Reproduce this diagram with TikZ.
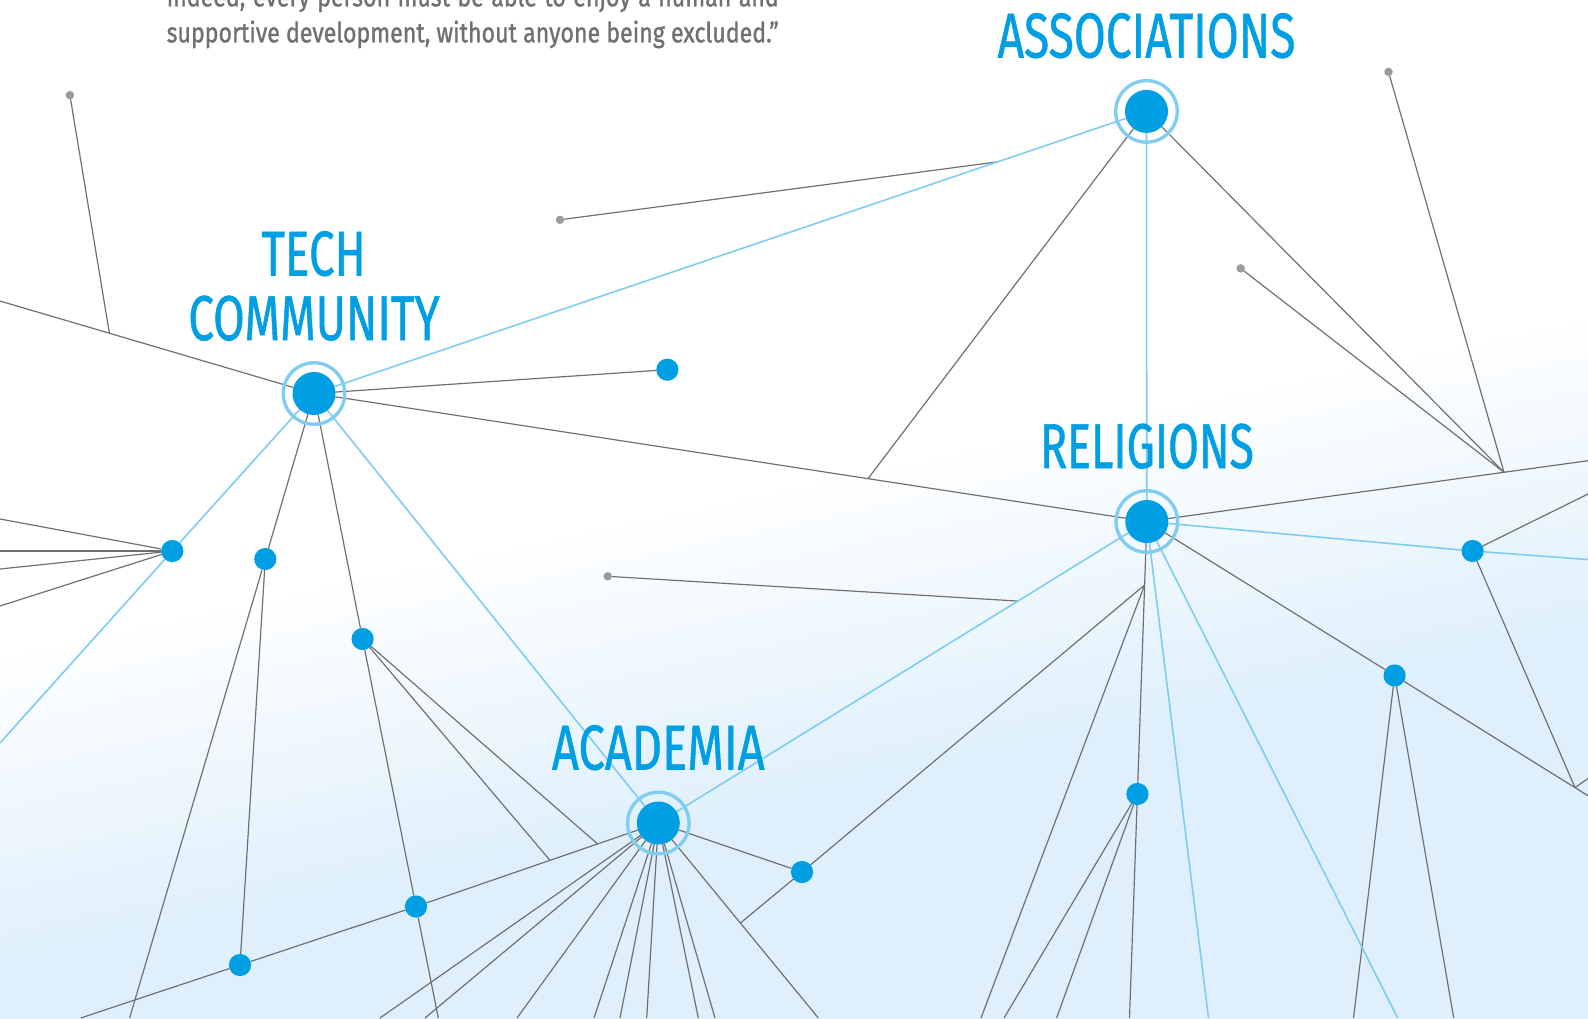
\documentclass[tikz,border=0pt]{standalone}
\usepackage{fontspec}
\usepackage{graphicx}
\usetikzlibrary{calc}
\newfontfamily\lblfont[FakeBold=1.0]{Fira Sans}
\newfontfamily\qfont[FakeBold=1.2]{Fira Sans}
\definecolor{hub}{HTML}{009FE3}
\definecolor{ringc}{HTML}{80CDF1}
\definecolor{lb}{HTML}{7DCCF2}
\definecolor{gl}{HTML}{707070}
\definecolor{gd}{HTML}{9B9B9B}
\definecolor{bgb}{HTML}{DFF0FC}
\definecolor{qt}{HTML}{707070}
\newsavebox\myqbox
\newcommand{\myQuoteA}{indeed, every person must be able to enjoy a human and}
\newcommand{\myQuoteB}{supportive development, without anyone being excluded.”}
\pgfdeclarelayer{back}
\pgfdeclarelayer{lines}
\pgfsetlayers{back,lines,main}
\tikzset{
 gline/.style={draw=gl, line width=0.34pt},
 bline/.style={draw=lb, line width=0.45pt},
 hubdot/.style={circle, fill=hub, inner sep=0pt, outer sep=0pt, minimum size=0.43cm},
 hubring/.style={circle, draw=ringc, line width=0.95pt, inner sep=0pt, minimum size=0.615cm},
 smalldot/.style={circle, fill=hub, inner sep=0pt, outer sep=0pt, minimum size=0.222cm},
 greydot/.style={circle, fill=gd, inner sep=0pt, outer sep=0pt, minimum size=0.085cm},
 lbl/.style={text=hub, inner sep=0pt, anchor=base, font=\lblfont\fontsize{18}{18}\selectfont},
 qtext/.style={text=qt, inner sep=0pt, anchor=base west, font=\qfont\fontsize{7.9}{10}\selectfont},
}
\begin{document}
\begin{tikzpicture}[x=0.01cm, y=-0.01cm]
\useasboundingbox (0,0) rectangle (1588,1018);
% background
\begin{pgfonlayer}{back}
 \clip (0,0) rectangle (1588,1018);
 \fill[white] (0,0) rectangle (1588,1018);
 \begin{scope}[transform canvas={rotate around={12:(794,509)}}]
  \shade[top color=white, bottom color=bgb] (-800,480) rectangle (2400,790);
  \fill[bgb] (-800,789) rectangle (2400,2600);
 \end{scope}
\end{pgfonlayer}
% hubs
\node[hubdot] (A) at (1146.5,111.4) {};
\node[hubdot] (T) at (314,393.5) {};
\node[hubdot] (C) at (658.3,823) {};
\node[hubdot] (R) at (1146.8,521.5) {};
\node[hubring] (Ar) at (A.center) {};
\node[hubring] (Tr) at (T.center) {};
\node[hubring] (Cr) at (C.center) {};
\node[hubring] (Rr) at (R.center) {};
% small dots
\node[smalldot] (D1) at (172.3,551) {};
\node[smalldot] (D2) at (265.3,559) {};
\node[smalldot] (D3) at (362.6,639) {};
\node[smalldot] (D4) at (667.4,369.7) {};
\node[smalldot] (D5) at (416,906.5) {};
\node[smalldot] (D6) at (240,965) {};
\node[smalldot] (D7) at (802,872) {};
\node[smalldot] (D8) at (1137.4,794) {};
\node[smalldot] (D9) at (1472.6,551) {};
\node[smalldot] (D10) at (1394.6,675.5) {};
% grey dots
\node[greydot] (G1) at (69.9,95.2) {};
\node[greydot] (G2) at (560,219.8) {};
\node[greydot] (G3) at (1240.7,268.4) {};
\node[greydot] (G4) at (1388.5,71.9) {};
\node[greydot] (G5) at (607.7,576.3) {};
% free ends
\coordinate (eT) at (0,301);
\coordinate (e1a) at (0,519);
\coordinate (e1b) at (0,551);
\coordinate (e1c) at (0,569);
\coordinate (e1d) at (0,606);
\coordinate (eTD1) at (0,743);
\coordinate (eD6) at (80.6,1018);
\coordinate (eD2) at (129.6,1018);
\coordinate (eD3) at (438.3,1018);
\coordinate (cb1) at (380,1018);
\coordinate (cb2) at (425,1018);
\coordinate (cb3) at (517,1018);
\coordinate (cb4) at (594,1018);
\coordinate (cb5) at (620,1018);
\coordinate (cb6) at (646.7,1018);
\coordinate (cb7) at (698.3,1018);
\coordinate (cb8) at (715,1018);
\coordinate (cb9) at (818.3,1018);
\coordinate (rb1) at (981,1018);
\coordinate (d8a) at (1004,1018);
\coordinate (d8b) at (1056.6,1018);
\coordinate (d8c) at (1129.5,1018);
\coordinate (rl1) at (1208.5,1018);
\coordinate (rl2) at (1397.7,1018);
\coordinate (d10a) at (1353.5,1018);
\coordinate (d10b) at (1453.7,1018);
\coordinate (eJ4) at (1588,778.5);
\coordinate (eR) at (1588,795.7);
\coordinate (eD9a) at (1588,494);
\coordinate (eD9b) at (1588,559.5);
\coordinate (eJ3) at (1588,460.7);
% junctions
\coordinate (J1) at ($(T.center)!0.6516!(eT)$);
\coordinate (J2) at ($(T.center)!0.6652!(R.center)$);
\coordinate (J3) at ($(R.center)!0.8096!(eJ3)$);
\coordinate (J5) at ($(R.center)!0.2639!(C.center)$);
\coordinate (J6) at ($(A.center)!0.1789!(T.center)$);
\coordinate (J7) at ($(D5.center)!0.7495!(C.center)$);
\coordinate (J8) at ($(D5.center)!0.553!(C.center)$);
\coordinate (Jc) at ($(C.center)!0.513!(cb9)$);
\coordinate (Jr) at ($(R.center)!0.233!(D8.center)$);
\coordinate (J4) at ($(D10.center)!0.9328!(eR)$);
% labels
\node[lbl] (lA) at (1146.5,57.5) {\resizebox{2.976cm}{\height}{ASSOCIATIONS}};
\node[lbl] (lT) at (313.5,275.5) {\resizebox{1.043cm}{\height}{TECH}};
\node[lbl] (lCo) at (314,340) {\resizebox{2.512cm}{\height}{COMMUNITY}};
\node[lbl] (lR) at (1147,468) {\resizebox{2.136cm}{\height}{RELIGIONS}};
\node[lbl] (lC) at (658.3,769.5) {\resizebox{2.126cm}{\height}{ACADEMIA}};
\node[qtext] (q1) at (166,6.3) {\sbox\myqbox{\myQuoteB}\resizebox{6.117cm}{\height}{\makebox[\wd\myqbox][s]{\myQuoteA}}};
\node[qtext] (q2) at (166,42.3) {\resizebox{6.117cm}{\height}{\myQuoteB}};
% connectors
\begin{pgfonlayer}{lines}
 % grey
 \draw[gline] (T) -- (eT);
 \draw[gline] (G1) -- (J1);
 \draw[gline] (T) -- (D4);
 \draw[gline] (T) -- (R);
 \draw[gline] (A) -- (J2);
 \draw[gline] (T) -- (D2);
 \draw[gline] (T) -- (D3);
 \draw[gline] (D1) -- (e1a);
 \draw[gline] (D1) -- (e1b);
 \draw[gline] (D1) -- (e1c);
 \draw[gline] (D1) -- (e1d);
 \draw[gline] (D2) -- (D6);
 \draw[gline] (D2) -- (eD2);
 \draw[gline] (eD6) -- (D6);
 \draw[gline] (D6) -- (D5);
 \draw[gline] (D5) -- (C);
 \draw[gline] (D3) -- (D5);
 \draw[gline] (D5) -- (eD3);
 \draw[gline] (D3) -- (J7);
 \draw[gline] (D3) -- (J8);
 \foreach \e in {cb1,cb2,cb3,cb4,cb5,cb6,cb7,cb8,cb9} \draw[gline] (C) -- (\e);
 \draw[gline] (C) -- (D7);
 \draw[gline] (Jc) -- (D7);
 \draw[gline] (D7) -- (Jr);
 \draw[gline] (Jr) -- (rb1);
 \draw[gline] (R) -- (D8);
 \draw[gline] (D8) -- (d8a);
 \draw[gline] (D8) -- (d8b);
 \draw[gline] (D8) -- (d8c);
 \draw[gline] (R) -- (eJ3);
 \draw[gline] (A) -- (J3);
 \draw[gline] (G3) -- (J3);
 \draw[gline] (G4) -- (J3);
 \draw[gline] (R) -- (D10);
 \draw[gline] (D10) -- (eR);
 \draw[gline] (D10) -- (d10a);
 \draw[gline] (D10) -- (d10b);
 \draw[gline] (D9) -- (eD9a);
 \draw[gline] (D9) -- (J4);
 \draw[gline] (J4) -- (eJ4);
 \draw[gline] (G5) -- (J5);
 \draw[gline] (G2) -- (J6);
 % light blue
 \draw[bline] (T) -- (A);
 \draw[bline] (A) -- (R);
 \draw[bline] (T) -- (C);
 \draw[bline] (T) -- (D1);
 \draw[bline] (D1) -- (eTD1);
 \draw[bline] (R) -- (C);
 \draw[bline] (R) -- (D9);
 \draw[bline] (D9) -- (eD9b);
 \draw[bline] (R) -- (rl1);
 \draw[bline] (R) -- (rl2);
\end{pgfonlayer}
\end{tikzpicture}
\end{document}
